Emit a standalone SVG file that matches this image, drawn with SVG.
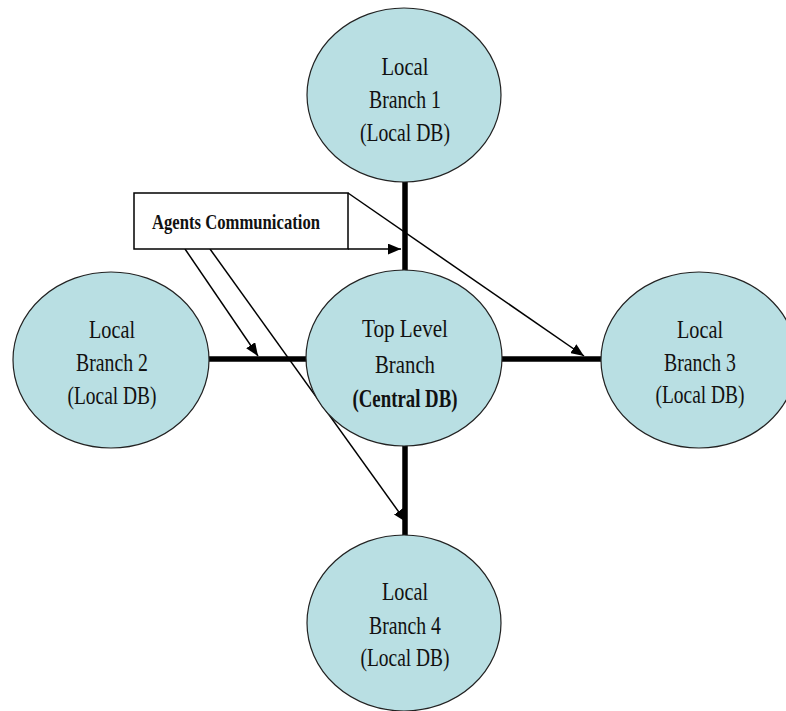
<svg xmlns="http://www.w3.org/2000/svg" width="786" height="711" viewBox="0 0 786 711">
<defs>
<style>
.node ellipse{fill:#b9dfe3;stroke:#222;stroke-width:1.2}
.node text{font-family:"Liberation Serif","Times New Roman",serif;font-size:25px;fill:#111;text-anchor:middle}
.thick{stroke:#000;stroke-width:5.5;fill:none}
.thin{stroke:#000;stroke-width:1.5;fill:none}
</style>
<marker id="ah" viewBox="0 0 12 10" refX="12" refY="5" markerWidth="13" markerHeight="11" markerUnits="userSpaceOnUse" orient="auto">
<path d="M0,0 L12,5 L0,10 Z" fill="#000"/>
</marker>
</defs>
<g id="connectors">
<line class="thick" x1="405" y1="182" x2="405" y2="271"/>
<line class="thick" x1="405" y1="445" x2="405" y2="536"/>
<line class="thick" x1="209" y1="359" x2="307" y2="359"/>
<line class="thick" x1="502" y1="359" x2="601" y2="359"/>
<line class="thin" x1="348" y1="249" x2="401" y2="249" marker-end="url(#ah)"/>
<line class="thin" x1="348" y1="193" x2="584" y2="356" marker-end="url(#ah)"/>
<line class="thin" x1="185" y1="249" x2="258" y2="356" marker-end="url(#ah)"/>
<line class="thin" x1="210" y1="249" x2="406" y2="522" marker-end="url(#ah)"/>
</g>
<g id="label-box">
<rect x="134" y="193" width="214" height="56" fill="#fff" stroke="#000" stroke-width="1.5"/>
<text x="152" y="229" font-family="'Liberation Serif','Times New Roman',serif" font-size="22" font-weight="bold" fill="#111" textLength="168" lengthAdjust="spacingAndGlyphs">Agents Communication</text>
</g>
<g id="branch1" class="node">
<ellipse cx="404" cy="95" rx="97" ry="87"/>
<text x="405" y="75" textLength="47" lengthAdjust="spacingAndGlyphs">Local</text>
<text x="405" y="108" textLength="72" lengthAdjust="spacingAndGlyphs">Branch 1</text>
<text x="405" y="141" textLength="90" lengthAdjust="spacingAndGlyphs">(Local DB)</text>
</g>
<g id="top-level" class="node">
<ellipse cx="404" cy="358" rx="98" ry="88"/>
<text x="405" y="337" font-size="27" textLength="86" lengthAdjust="spacingAndGlyphs">Top Level</text>
<text x="405" y="373" font-size="27" textLength="60" lengthAdjust="spacingAndGlyphs">Branch</text>
<text x="405" y="407" font-size="26" font-weight="bold" textLength="105" lengthAdjust="spacingAndGlyphs">(Central DB)</text>
</g>
<g id="branch2" class="node">
<ellipse cx="111" cy="360" rx="98" ry="88"/>
<text x="112" y="338" textLength="46" lengthAdjust="spacingAndGlyphs">Local</text>
<text x="112" y="371" textLength="72" lengthAdjust="spacingAndGlyphs">Branch 2</text>
<text x="112" y="404" textLength="89" lengthAdjust="spacingAndGlyphs">(Local DB)</text>
</g>
<g id="branch3" class="node">
<ellipse cx="699" cy="360" rx="98" ry="88"/>
<text x="700" y="338" textLength="46" lengthAdjust="spacingAndGlyphs">Local</text>
<text x="700" y="371" textLength="72" lengthAdjust="spacingAndGlyphs">Branch 3</text>
<text x="700" y="403" textLength="89" lengthAdjust="spacingAndGlyphs">(Local DB)</text>
</g>
<g id="branch4" class="node">
<ellipse cx="404" cy="623" rx="97" ry="88"/>
<text x="405" y="600" textLength="46" lengthAdjust="spacingAndGlyphs">Local</text>
<text x="405" y="634" textLength="72" lengthAdjust="spacingAndGlyphs">Branch 4</text>
<text x="405" y="666" textLength="89" lengthAdjust="spacingAndGlyphs">(Local DB)</text>
</g>
</svg>
